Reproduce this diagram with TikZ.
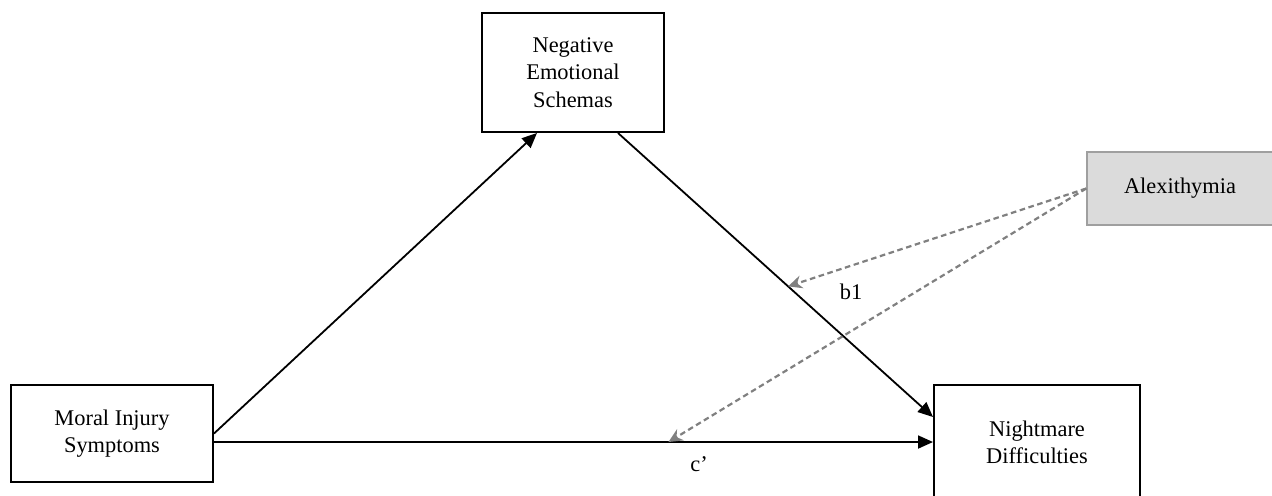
\documentclass[tikz,border=0pt]{standalone}
\usepackage{fontspec}
\setmainfont{Liberation Serif}
\usetikzlibrary{arrows.meta}

\tikzset{
  varbox/.style={draw, line width=1pt, inner sep=0pt, align=center,
    font=\fontsize{11.2}{13.6}\selectfont},
  modbox/.style={varbox, draw=gray!75, fill=black!14, line width=0.8pt},
  effect/.style={line width=0.9pt, -{Triangle[length=7.5pt,width=6.5pt]}},
  moderation/.style={gray, line width=1.1pt, dash pattern=on 2.8pt off 1.8pt,
    -{Stealth[length=7pt,width=6.5pt]}},
  pathlabel/.style={font=\fontsize{11.2}{13.6}\selectfont}
}

\begin{document}
\begin{tikzpicture}[x=0.5pt,y=-0.5pt]
\useasboundingbox (0,0) rectangle (1272,495);
\clip (0,0) rectangle (1272,495);

% variables
\node[varbox, minimum width=91pt, minimum height=59.5pt] (negative) at (573,72.5) {Negative\\Emotional\\Schemas};
\node[varbox, minimum width=101pt, minimum height=48.5pt] (moral) at (112,433.5) {Moral Injury\\Symptoms};
\node[varbox, minimum width=103pt, minimum height=57pt] (nightmare) at (1037,442) {Nightmare\\Difficulties};
\node[modbox, minimum width=93pt, minimum height=36.5pt] (alex) at (1180,188.5) {Alexithymia};

% paths
\draw[effect] (moral.east) -- ([xshift=-18pt]negative.south);
\draw[effect] ([xshift=22.5pt]negative.south) -- coordinate[pos=0.54] (b1pt) ([yshift=12.5pt]nightmare.west);
\draw[effect] (moral.east |- nightmare.west) -- coordinate[pos=0.632] (cpt) (nightmare.west);

% moderation
\draw[moderation] (alex.west) -- (b1pt);
\draw[moderation] (alex.west) -- (cpt);

\node[pathlabel] (b1) at (851,292) {b1};
\node[pathlabel] (cprime) at (699,464) {c'};
\end{tikzpicture}
\end{document}
